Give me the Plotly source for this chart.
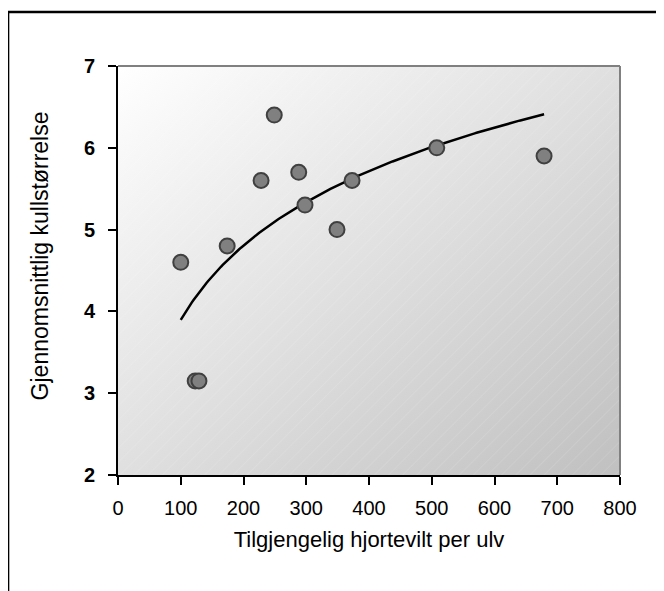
import numpy as np
import plotly.graph_objects as go
import base64

# Data
deer_per_wolf = [100, 123, 129, 174, 228, 249, 288, 298, 349, 373, 508, 679]
litter_size = [4.6, 3.15, 3.15, 4.8, 5.6, 6.4, 5.7, 5.3, 5.0, 5.6, 6.0, 5.9]
x_ticks = [0, 100, 200, 300, 400, 500, 600, 700, 800]
y_ticks = [2, 3, 4, 5, 6, 7]

# Logarithmic trendline (least-squares fit of y on ln x)
xa = np.array(deer_per_wolf, dtype=float)
ya = np.array(litter_size, dtype=float)
a, b = np.polyfit(np.log(xa), ya, 1)
xt = np.linspace(xa.min(), xa.max(), 200)
yt = a * np.log(xt) + b

svg = '''<svg xmlns="http://www.w3.org/2000/svg" width="502" height="409" viewBox="0 0 502 409" preserveAspectRatio="none">
<defs>
<linearGradient id="g" x1="0" y1="0" x2="1" y2="1">
<stop offset="0" stop-color="#ffffff"/>
<stop offset="1" stop-color="#c0c0c0"/>
</linearGradient>
<pattern id="p" width="10" height="10" patternUnits="userSpaceOnUse" patternTransform="rotate(45)">
<line x1="0" y1="0" x2="0" y2="10" stroke="#ffffff" stroke-width="1" stroke-opacity="0.2"/>
</pattern>
</defs>
<rect width="502" height="409" fill="url(#g)"/>
<rect width="502" height="409" fill="url(#p)"/>
</svg>'''
src = "data:image/svg+xml;base64," + base64.b64encode(svg.encode()).decode()

fig = go.Figure()
fig.add_trace(go.Scatter(
    x=xt, y=yt, mode="lines",
    line=dict(color="black", width=2.5),
    hoverinfo="skip", showlegend=False,
))
fig.add_trace(go.Scatter(
    x=deer_per_wolf, y=litter_size, mode="markers",
    marker=dict(size=15, color="#808080", line=dict(color="#404040", width=2)),
    showlegend=False,
))

font = "Liberation Sans, Arial, sans-serif"
fig.update_layout(
    width=656, height=583,
    margin=dict(l=110, r=44, t=58, b=116),
    paper_bgcolor="white",
    plot_bgcolor="rgba(0,0,0,0)",
    font=dict(family=font, color="black"),
    images=[dict(source=src, xref="paper", yref="paper", x=0, y=1,
                 sizex=1, sizey=1, sizing="stretch", layer="below",
                 xanchor="left", yanchor="top")],
    xaxis=dict(
        range=[0, 800], tickvals=x_ticks, ticks="outside", ticklen=8,
        tickwidth=2, tickcolor="black", showgrid=False, zeroline=False,
        showline=True, linecolor="black", linewidth=2,
        tickfont=dict(size=20, family=font),
        ticklabelstandoff=6,
        title=dict(text="Tilgjengelig hjortevilt per ulv", font=dict(size=22, family=font), standoff=14),
    ),
    yaxis=dict(
        range=[2, 7], tickvals=y_ticks, ticks="outside", ticklen=8,
        tickwidth=2, tickcolor="black", showgrid=False, zeroline=False,
        showline=True, linecolor="black", linewidth=2,
        tickfont=dict(size=20, family=font, weight="bold"),
        ticklabelstandoff=9,
    ),
    annotations=[dict(
        text="Gjennomsnittlig kullstørrelse", textangle=-90,
        xref="paper", yref="paper", x=-0.155, y=0.535,
        xanchor="center", yanchor="middle", showarrow=False,
        font=dict(size=23, family=font),
    )],
    shapes=[
        dict(type="line", xref="paper", yref="paper", x0=0, y0=1, x1=1, y1=1,
             line=dict(color="#808080", width=2)),
        dict(type="line", xref="paper", yref="paper", x0=1, y0=0, x1=1, y1=1,
             line=dict(color="#808080", width=2)),
        dict(type="rect", xref="paper", yref="paper", x0=-0.219, y0=-0.35,
             x1=1.2, y1=1.132, line=dict(color="black", width=2.5)),
    ],
)

fig.write_html("out.html")
